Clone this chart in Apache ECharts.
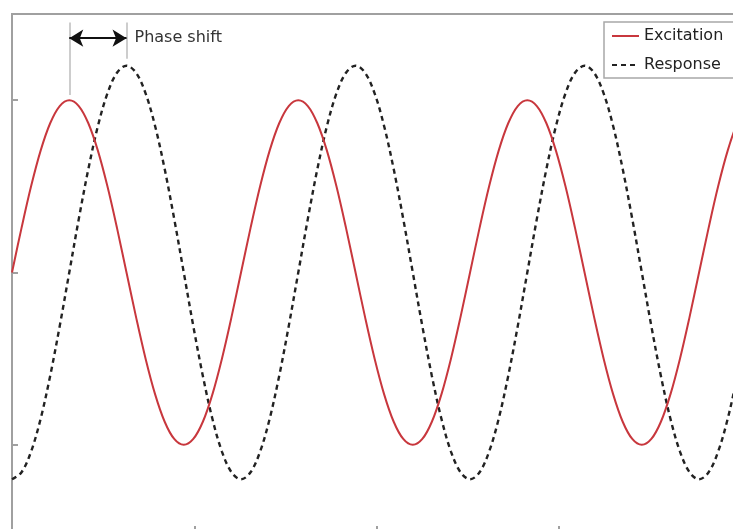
<!DOCTYPE html>
<html>
<head>
<meta charset="utf-8">
<script src="https://cdn.jsdelivr.net/npm/echarts@6/dist/echarts.min.js"></script>
<style>
html,body{margin:0;padding:0;background:#fff;overflow:hidden;}
#chart{width:733px;height:529px;}
</style>
</head>
<body>
<div id="chart"></div>
<script>
const time = [0.0000,0.0524,0.1047,0.1571,0.2094,0.2618,0.3142,0.3665,0.4189,0.4712,
0.5236,0.5760,0.6283,0.6807,0.7330,0.7854,0.8378,0.8901,0.9425,0.9948,
1.0472,1.0996,1.1519,1.2043,1.2566,1.3090,1.3614,1.4137,1.4661,1.5184,
1.5708,1.6232,1.6755,1.7279,1.7802,1.8326,1.8850,1.9373,1.9897,2.0420,
2.0944,2.1468,2.1991,2.2515,2.3038,2.3562,2.4086,2.4609,2.5133,2.5656,
2.6180,2.6704,2.7227,2.7751,2.8274,2.8798,2.9322,2.9845,3.0369,3.0892,
3.1416,3.1940,3.2463,3.2987,3.3510,3.4034,3.4558,3.5081,3.5605,3.6128,
3.6652,3.7176,3.7699,3.8223,3.8746,3.9270,3.9794,4.0317];

const excitation = [0,0.259,0.5,0.707,0.866,0.966,1,0.966,0.866,0.707,0.5,0.259,
0,-0.259,-0.5,-0.707,-0.866,-0.966,-1,-0.966,-0.866,-0.707,-0.5,-0.259,
0,0.259,0.5,0.707,0.866,0.966,1,0.966,0.866,0.707,0.5,0.259,
0,-0.259,-0.5,-0.707,-0.866,-0.966,-1,-0.966,-0.866,-0.707,-0.5,-0.259,
0,0.259,0.5,0.707,0.866,0.966,1,0.966,0.866,0.707,0.5,0.259,
0,-0.259,-0.5,-0.707,-0.866,-0.966,-1,-0.966,-0.866,-0.707,-0.5,-0.259,
0,0.259,0.5,0.707,0.866,0.966];

const response = [-1.2,-1.159,-1.039,-0.849,-0.6,-0.311,0,0.311,0.6,0.849,1.039,1.159,
1.2,1.159,1.039,0.849,0.6,0.311,0,-0.311,-0.6,-0.849,-1.039,-1.159,
-1.2,-1.159,-1.039,-0.849,-0.6,-0.311,0,0.311,0.6,0.849,1.039,1.159,
1.2,1.159,1.039,0.849,0.6,0.311,0,-0.311,-0.6,-0.849,-1.039,-1.159,
-1.2,-1.159,-1.039,-0.849,-0.6,-0.311,0,0.311,0.6,0.849,1.039,1.159,
1.2,1.159,1.039,0.849,0.6,0.311,0,-0.311,-0.6,-0.849,-1.039,-1.159,
-1.2,-1.159,-1.039,-0.849,-0.6,-0.311];

const seriesNames = ['Excitation', 'Response'];
// Phase-shift annotation (data coordinates)
const excPeakT = 0.3142;
const resPeakT = 0.6283;
const annotTop = 1.45;
const arrowY = 1.36;
const excGuideBottom = 1.03;
const resGuideBottom = 1.24;
const annotText = 'Phase shift';

const font = '"DejaVu Sans", "Noto Sans", sans-serif';
const axisGray = '#a0a0a0';

const chart = echarts.init(document.getElementById('chart'));
chart.setOption({
  animation: false,
  backgroundColor: '#fff',
  grid: { left: 12, top: 14, width: 729, height: 517, containLabel: false, outerBoundsMode: 'none' },
  xAxis: {
    type: 'value', min: 0, max: 4, interval: 1,
    axisLine: { show: true, onZero: false, lineStyle: { color: axisGray, width: 2 } },
    axisTick: { show: true, inside: true, length: 5, lineStyle: { color: axisGray, width: 2 } },
    axisLabel: { show: false },
    splitLine: { show: false }
  },
  yAxis: {
    type: 'value', min: -1.5, max: 1.5, interval: 0.5,
    axisLine: { show: true, onZero: false, lineStyle: { color: axisGray, width: 2 } },
    axisTick: { show: true, inside: true, length: 6, lineStyle: { color: axisGray, width: 2 },
      customValues: [-1, 0, 1] },
    axisLabel: { show: false },
    splitLine: { show: false }
  },
  graphic: [
    { type: 'rect', shape: { x: 12, y: 14, width: 760, height: 600 }, style: { fill: 'none', stroke: axisGray, lineWidth: 2 }, z: 0, silent: true }
  ],
  legend: {
    orient: 'vertical', left: 604, top: 22,
    data: seriesNames,
    backgroundColor: '#fff',
    borderColor: '#a8a8a8', borderWidth: 1.5, borderRadius: 0,
    padding: [6, 14, 5, 7],
    itemWidth: 27, itemHeight: 14, itemGap: 13,
    itemStyle: { opacity: 0 },
    textStyle: { fontFamily: font, fontSize: 16, color: '#222' }
  },
  series: [
    {
      name: seriesNames[0], type: 'line', smooth: 0.35, symbol: 'none', clip: true,
      data: time.map((t, i) => [t, excitation[i]]),
      lineStyle: { color: '#c8373d', width: 2 },
      itemStyle: { color: '#c8373d' },
      z: 3,
      markLine: {
        silent: true, symbol: 'none', animation: false,
        lineStyle: { color: '#bdbdbd', width: 1.5, type: 'solid' },
        label: { show: false },
        data: [
          [{ coord: [excPeakT, excGuideBottom] }, { coord: [excPeakT, annotTop] }],
          [{ coord: [resPeakT, resGuideBottom] }, { coord: [resPeakT, annotTop] }]
        ]
      }
    },
    {
      name: seriesNames[1], type: 'line', smooth: 0.35, symbol: 'none', clip: true,
      data: time.map((t, i) => [t, response[i]]),
      lineStyle: { color: '#222', width: 2.4, type: [5, 4] },
      itemStyle: { color: '#222' },
      z: 2,
      markLine: {
        silent: true, animation: false,
        symbol: ['arrow', 'arrow'], symbolSize: [13, 14],
        lineStyle: { color: '#111', width: 2, type: 'solid' },
        label: {
          show: true, position: 'end', formatter: annotText,
          fontFamily: font, fontSize: 16, color: '#333', distance: 8
        },
        data: [
          [{ coord: [excPeakT, arrowY] }, { coord: [resPeakT, arrowY] }]
        ]
      }
    }
  ]
});
</script>
</body>
</html>
